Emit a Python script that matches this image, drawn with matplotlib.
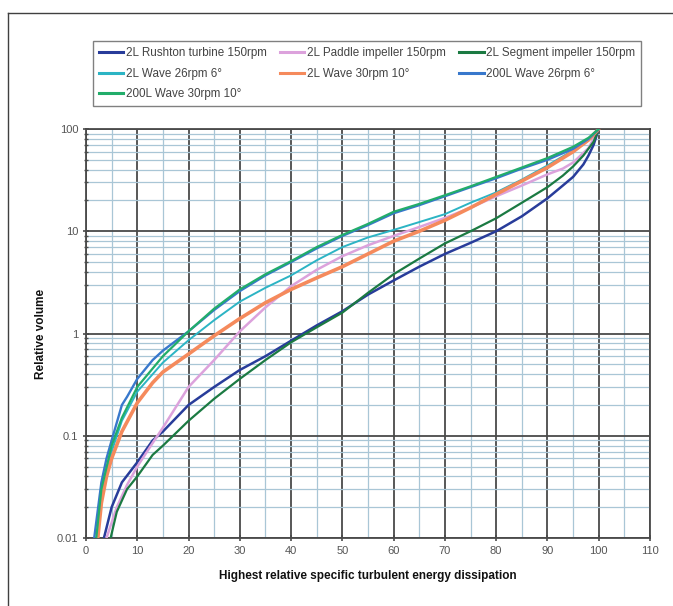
import matplotlib
matplotlib.use("Agg")
import matplotlib.pyplot as plt
from matplotlib.ticker import FixedLocator, LogLocator, NullFormatter, FixedFormatter
from matplotlib.lines import Line2D

plt.rcParams['font.family'] = ['Liberation Sans', 'DejaVu Sans']

# ---- data ----
labels = ["2L Rushton turbine 150rpm", "2L Paddle impeller 150rpm", "2L Segment impeller 150rpm",
          "2L Wave 26rpm 6°", "2L Wave 30rpm 10°", "200L Wave 26rpm 6°", "200L Wave 30rpm 10°"]

rushton_x = [3.5, 5, 7, 10, 13, 15, 20, 25, 30, 35, 40, 45, 50, 55, 60, 65, 70, 75, 80, 85, 90, 93, 95, 97, 98, 99, 100]
rushton_y = [0.01, 0.02, 0.035, 0.055, 0.09, 0.11, 0.2, 0.3, 0.44, 0.6, 0.85, 1.2, 1.65, 2.4, 3.3, 4.5, 6.0, 7.7, 10, 14, 21, 28, 34, 45, 55, 70, 100]

paddle_x = [4, 6, 8, 10, 13, 15, 20, 25, 30, 35, 40, 45, 50, 55, 60, 65, 70, 75, 80, 85, 90, 93, 95, 98, 100]
paddle_y = [0.01, 0.02, 0.033, 0.05, 0.085, 0.12, 0.3, 0.55, 1.05, 1.8, 2.9, 4.2, 5.7, 7.3, 9.0, 11, 13.5, 17, 22, 28, 36, 41, 47, 65, 100]

segment_x = [4.8, 6, 8, 10, 13, 15, 20, 25, 30, 35, 40, 45, 50, 55, 60, 65, 70, 75, 80, 85, 90, 93, 95, 97, 99, 100]
segment_y = [0.01, 0.018, 0.03, 0.04, 0.065, 0.08, 0.14, 0.23, 0.36, 0.55, 0.82, 1.15, 1.6, 2.5, 3.8, 5.4, 7.6, 10, 13.4, 19, 27, 35, 43, 55, 75, 100]

wave2l26_x = [2.3, 3, 5, 7, 10, 15, 20, 25, 30, 35, 40, 45, 50, 55, 60, 65, 70, 75, 80, 85, 90, 95, 98, 100]
wave2l26_y = [0.01, 0.025, 0.07, 0.14, 0.27, 0.52, 0.86, 1.35, 2.05, 2.8, 3.7, 5.2, 7.0, 8.7, 10.3, 12.3, 14.7, 19, 24, 32, 44, 62, 80, 100]

wave2l30_x = [2.3, 3, 4, 5, 7, 10, 13, 15, 20, 25, 30, 35, 40, 45, 50, 55, 60, 65, 70, 75, 80, 85, 90, 93, 95, 98, 100]
wave2l30_y = [0.01, 0.022, 0.04, 0.06, 0.11, 0.21, 0.33, 0.42, 0.63, 0.95, 1.4, 2.0, 2.7, 3.5, 4.5, 6.0, 8.0, 10, 12.8, 17, 23, 31, 42, 52, 60, 78, 100]

wave200l26_x = [1.6, 3, 4, 5, 7, 8, 10, 13, 15, 20, 25, 30, 35, 40, 45, 50, 55, 60, 65, 70, 75, 80, 85, 90, 95, 98, 100]
wave200l26_y = [0.01, 0.035, 0.06, 0.09, 0.2, 0.24, 0.36, 0.55, 0.68, 1.05, 1.7, 2.6, 3.7, 5.0, 6.8, 9.0, 11.5, 15, 18, 22, 27, 33, 41, 50, 64, 80, 100]

wave200l30_x = [2.0, 3, 5, 7, 10, 15, 20, 25, 30, 35, 40, 45, 50, 55, 60, 65, 70, 75, 80, 85, 90, 95, 98, 100]
wave200l30_y = [0.01, 0.03, 0.08, 0.15, 0.3, 0.6, 1.05, 1.75, 2.7, 3.8, 5.1, 7.0, 9.2, 11.8, 15.5, 18.5, 22.5, 27.5, 34, 42, 52, 67, 82, 100]

xticks = [0, 10, 20, 30, 40, 50, 60, 70, 80, 90, 100, 110]
yticks = [0.01, 0.1, 1, 10, 100]
ytick_labels = ["0.01", "0.1", "1", "10", "100"]

series = [
    (rushton_x, rushton_y, "#283c9a", 1.8),
    (paddle_x, paddle_y, "#dca2dc", 1.8),
    (segment_x, segment_y, "#1b7a42", 1.6),
    (wave2l26_x, wave2l26_y, "#2cb4c4", 1.4),
    (wave2l30_x, wave2l30_y, "#f58a5c", 2.6),
    (wave200l26_x, wave200l26_y, "#3878cc", 1.7),
    (wave200l30_x, wave200l30_y, "#22ad6a", 1.6),
]

fig = plt.figure(figsize=(6.73, 6.06), dpi=100)
ax = fig.add_axes([86/673, 1-538/606, (650-86)/673, (538-129)/606])

for (xs, ys, c, lw), lab in zip(series, labels):
    ax.plot(xs, ys, color=c, lw=lw, label=lab, solid_capstyle='round', zorder=3)

ax.set_yscale('log')
ax.set_xlim(0, 110)
ax.set_ylim(0.01, 100)
ax.xaxis.set_major_locator(FixedLocator(xticks))
ax.xaxis.set_minor_locator(FixedLocator([x + 5 for x in xticks[:-1]]))
ax.yaxis.set_major_locator(FixedLocator(yticks))
ax.yaxis.set_major_formatter(FixedFormatter(ytick_labels))
ax.yaxis.set_minor_locator(LogLocator(base=10, subs=range(2, 10)))
ax.yaxis.set_minor_formatter(NullFormatter())

ax.grid(which='major', color='#4a4a4a', lw=1.3, zorder=1)
ax.grid(which='minor', color='#a9c6d6', lw=0.9, zorder=0)
ax.set_axisbelow(True)
for s in ax.spines.values():
    s.set_color('#4a4a4a')
    s.set_linewidth(1.3)

ax.tick_params(axis='both', which='major', direction='inout', length=5, width=1.2,
               color='#4a4a4a', labelsize=8, labelcolor='#555555', pad=3)
ax.tick_params(axis='y', which='minor', direction='inout', length=3, width=1.0, color='#4a4a4a')
ax.tick_params(axis='x', which='minor', length=0)

ax.set_xlabel("Highest relative specific turbulent energy dissipation", fontsize=8.5,
              fontweight='bold', labelpad=10, color='#111111')
ax.set_ylabel("Relative volume", fontsize=8.5, fontweight='bold', labelpad=7, color='#111111')

# legend filled row by row (matplotlib fills column-wise, so reorder)
order = [0, 3, 6, 1, 4, 2, 5]
handles = [Line2D([0], [0], color=series[i][2], lw=2.2) for i in order]
leg_labels = [labels[i] for i in order]
leg = fig.legend(handles, leg_labels, ncol=3, loc='upper left',
                 bbox_to_anchor=(93/673, 1-41/606), bbox_transform=fig.transFigure,
                 fontsize=8.4, frameon=True, fancybox=False, edgecolor='#606060',
                 handlelength=2.1, handletextpad=0.25, columnspacing=1.1,
                 labelspacing=0.75, borderpad=0.5, borderaxespad=0)
leg.get_frame().set_linewidth(1.0)
for t in leg.get_texts():
    t.set_color('#444444')

# partial outer frame (top and left)
fig.add_artist(Line2D([8/673, 1], [1-13/606, 1-13/606], transform=fig.transFigure,
                      color='#404040', lw=1.0))
fig.add_artist(Line2D([8/673, 8/673], [0, 1-13/606], transform=fig.transFigure,
                      color='#404040', lw=1.0))

fig.savefig("out.png", dpi=100, facecolor='white')
